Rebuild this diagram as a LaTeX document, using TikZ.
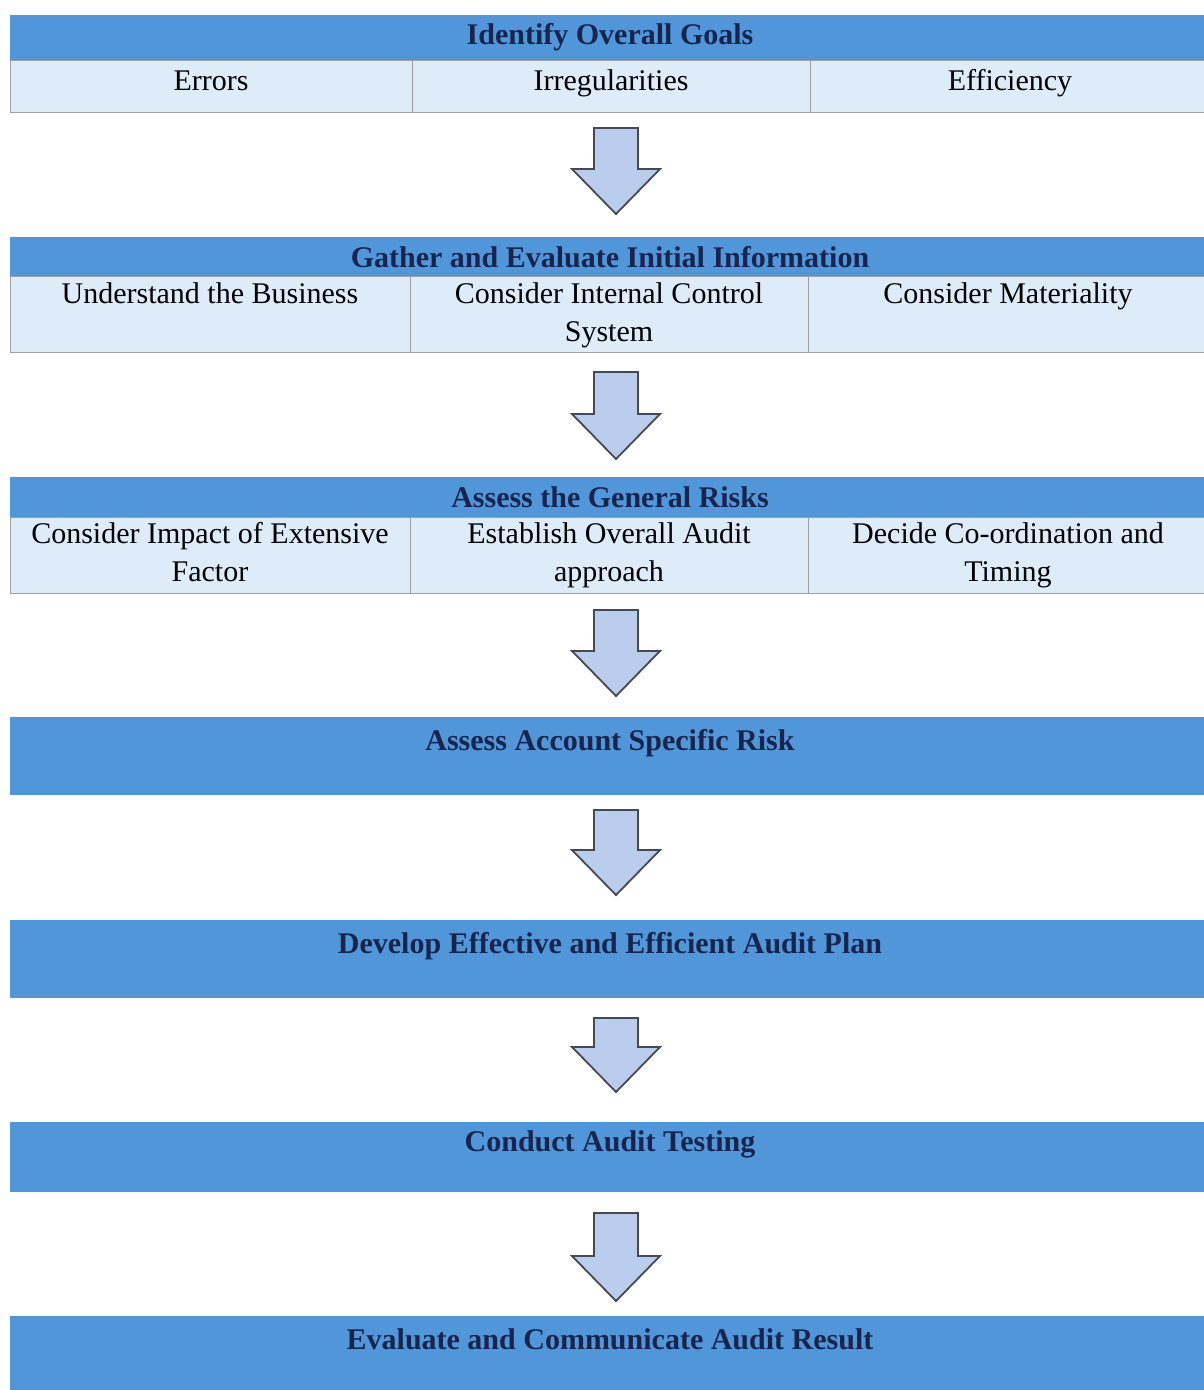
\documentclass[tikz,border=0pt]{standalone}
\usepackage{fontspec}
\setmainfont{Liberation Serif}
\usetikzlibrary{calc}

\definecolor{hdrblue}{RGB}{82,150,218}
\definecolor{hdrtext}{RGB}{22,36,78}
\definecolor{cellblue}{RGB}{222,235,249}
\definecolor{arrowblue}{RGB}{186,205,236}
\definecolor{arrowline}{RGB}{70,72,82}

% block arrow from (top) to (tip)
\newcommand{\blockarrow}[2]{%
    \draw[blkarrow]
        ($(#1)+(-22,0)$)
        -- ($(#1)+(22,0)$)
        -- ($(#2)+(22,-45)$)
        -- ($(#2)+(44,-45)$)
        -- (#2)
        -- ($(#2)+(-44,-45)$)
        -- ($(#2)+(-22,-45)$)
        -- cycle;}

\begin{document}
\begin{tikzpicture}[x=1pt, y=-1pt,
    hdr/.style={fill=hdrblue, text=hdrtext, inner sep=0pt, minimum width=1200pt,
        font=\fontsize{30}{38}\selectfont\bfseries},
    cell/.style={fill=cellblue, draw=gray!75, line width=1pt, inner sep=0pt,
        minimum width=400pt, align=center, font=\fontsize{30}{38}\selectfont},
    onecell/.style={cell, text height=30pt, text depth=22pt},
    bigbox/.style={hdr, text height=33pt, text depth=45pt},
    blkarrow/.style={fill=arrowblue, draw=arrowline, line width=1.8pt, line join=miter}]

    \useasboundingbox (0,0) rectangle (1203,1390);

    % --- Identify Overall Goals ---
    \node[hdr, minimum height=45pt] (goals) at (610,37.5) {Identify Overall Goals};
    \node[onecell, minimum width=402pt] (err) at (211,86) {Errors};
    \node[onecell, minimum width=398pt] (irr) at (611,86) {Irregularities};
    \node[onecell] (eff) at (1010,86) {Efficiency};

    % --- Gather and Evaluate Initial Information ---
    \node[hdr, minimum height=40pt] (gather) at (610,257) {Gather and Evaluate Initial Information};
    \node[cell, minimum height=75pt] (busi) at (210,314.5) {\strut Understand the Business\\\strut};
    \node[cell, minimum height=75pt, minimum width=398pt] (ics) at (609,314.5) {\strut Consider Internal Control\\\strut System};
    \node[cell, minimum height=75pt] (mat) at (1008,314.5) {\strut Consider Materiality\\\strut};

    % --- Assess the General Risks ---
    \node[hdr, minimum height=40pt] (general) at (610,497) {Assess the General Risks};
    \node[cell, minimum height=76pt] (ext) at (210,555) {\strut Consider Impact of Extensive\\\strut Factor};
    \node[cell, minimum height=76pt, minimum width=398pt] (appr) at (609,555) {\strut Establish Overall Audit\\\strut approach};
    \node[cell, minimum height=76pt] (timing) at (1008,555) {\strut Decide Co-ordination and\\\strut Timing};

    % --- single steps ---
    \node[bigbox] (specific) at (610,756) {Assess Account Specific Risk};
    \node[bigbox] (plan) at (610,959) {Develop Effective and Efficient Audit Plan};
    \node[bigbox, text height=29pt, text depth=41pt] (testing) at (610,1157) {Conduct Audit Testing};
    \node[bigbox] (result) at (610,1355) {Evaluate and Communicate Audit Result};

    % --- arrows between the steps ---
    \coordinate (a1) at (616,128);  \coordinate (a1e) at (616,214);
    \coordinate (a2) at (616,372);  \coordinate (a2e) at (616,459);
    \coordinate (a3) at (616,610);  \coordinate (a3e) at (616,696);
    \coordinate (a4) at (616,810);  \coordinate (a4e) at (616,895);
    \coordinate (a5) at (616,1018); \coordinate (a5e) at (616,1092);
    \coordinate (a6) at (616,1213); \coordinate (a6e) at (616,1301);

    \blockarrow{a1}{a1e}
    \blockarrow{a2}{a2e}
    \blockarrow{a3}{a3e}
    \blockarrow{a4}{a4e}
    \blockarrow{a5}{a5e}
    \blockarrow{a6}{a6e}

\end{tikzpicture}
\end{document}
